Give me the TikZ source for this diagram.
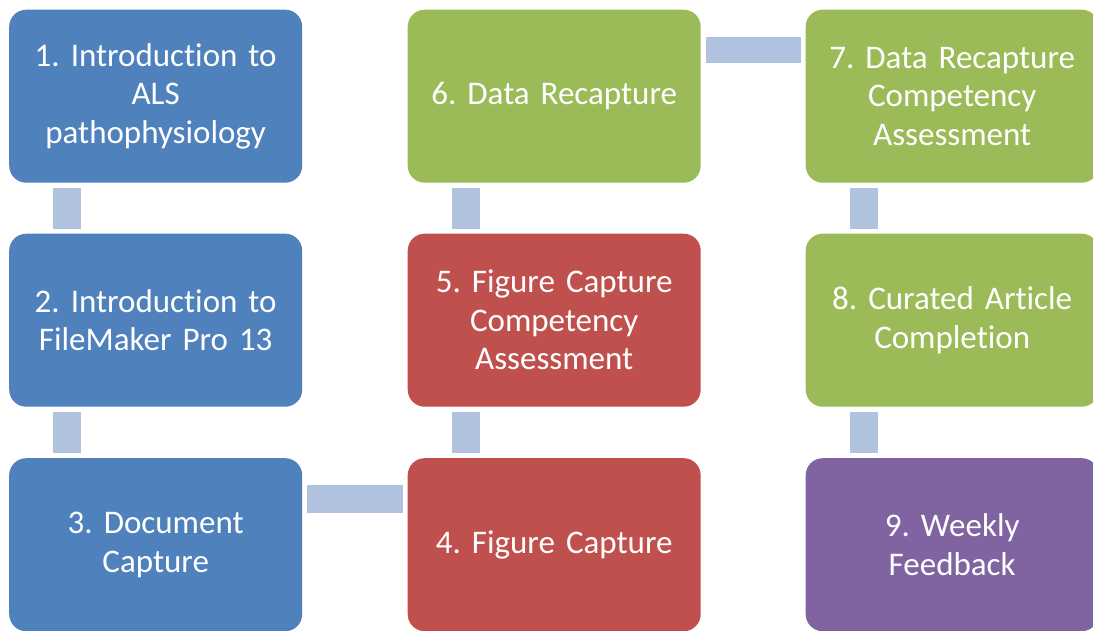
\documentclass[tikz,border=0pt]{standalone}
\usepackage{fontspec}
\setmainfont{Carlito}[Ligatures=NoCommon]
\frenchspacing
\definecolor{bblue}{HTML}{4F81BD}
\definecolor{bred}{HTML}{C0504D}
\definecolor{bgreen}{HTML}{9BBB59}
\definecolor{bpurple}{HTML}{8064A2}
\definecolor{bconn}{HTML}{B0C2DD}
\tikzset{
  stagebox/.style={rectangle, rounded corners=17pt, minimum width=293pt, minimum height=173pt,
    inner sep=0pt, text width=285pt, align=center, text=white, anchor=north west,
    font=\fontsize{33}{38.5}\selectfont},
  conn/.style={fill=bconn, draw=none}
}
\begin{document}
\begin{tikzpicture}[x=1pt,y=1pt]
\clip (0,0) rectangle (1093,-630);
\fill[white] (0,0) rectangle (1093,-630);
% column 1
\node[stagebox, fill=bblue] (b1) at (9,-9.5) {1. Introduction to\\ALS\\pathophysiology};
\node[stagebox, fill=bblue] (b2) at (9,-233.5) {2. Introduction to\\FileMaker Pro 13};
\node[stagebox, fill=bblue] (b3) at (9,-458) {3. Document\\Capture};
% column 2
\node[stagebox, fill=bred] (b4) at (407.5,-458) {4. Figure Capture};
\node[stagebox, fill=bred] (b5) at (407.5,-233.5) {5. Figure Capture\\Competency\\Assessment};
\node[stagebox, fill=bgreen] (b6) at (407.5,-9.5) {6. Data Recapture};
% column 3
\node[stagebox, fill=bgreen] (b7) at (805.5,-9.5) {7. Data Recapture\\Competency\\Assessment};
\node[stagebox, fill=bgreen] (b8) at (805.5,-233.5) {8. Curated Article\\Completion};
\node[stagebox, fill=bpurple] (b9) at (805.5,-458) {9. Weekly\\Feedback};
% connectors
\fill[conn] ([xshift=44pt,yshift=-5pt]b1.south west) rectangle ([xshift=72pt,yshift=5pt]b2.north west);
\fill[conn] ([xshift=44pt,yshift=-5pt]b2.south west) rectangle ([xshift=72pt,yshift=5pt]b3.north west);
\fill[conn] ([xshift=5pt,yshift=-27pt]b3.north east) rectangle ([xshift=-5pt,yshift=-55pt]b4.north west);
\fill[conn] ([xshift=44pt,yshift=-5pt]b5.south west) rectangle ([xshift=72pt,yshift=5pt]b4.north west);
\fill[conn] ([xshift=44pt,yshift=-5pt]b6.south west) rectangle ([xshift=72pt,yshift=5pt]b5.north west);
\fill[conn] ([xshift=5pt,yshift=-27.5pt]b6.north east) rectangle ([xshift=-5pt,yshift=-53.5pt]b7.north west);
\fill[conn] ([xshift=44pt,yshift=-5pt]b7.south west) rectangle ([xshift=72pt,yshift=5pt]b8.north west);
\fill[conn] ([xshift=44pt,yshift=-5pt]b8.south west) rectangle ([xshift=72pt,yshift=5pt]b9.north west);
\end{tikzpicture}
\end{document}
